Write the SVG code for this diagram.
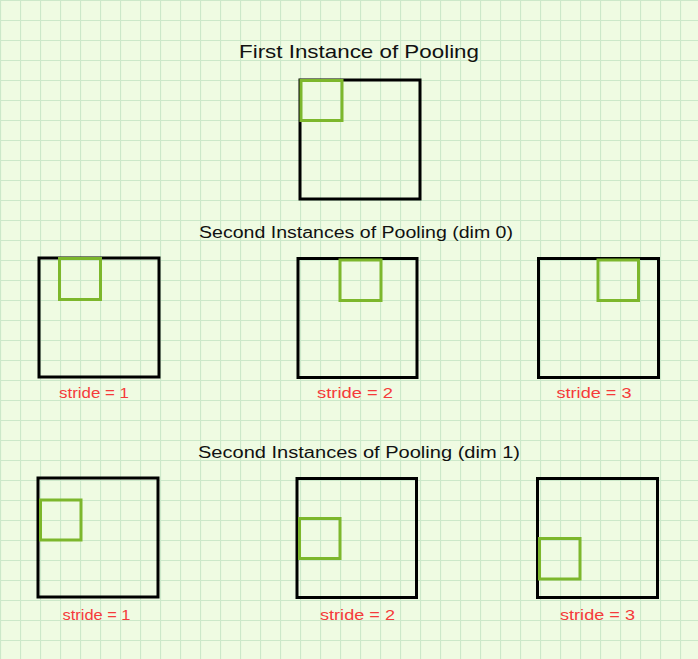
<svg xmlns="http://www.w3.org/2000/svg" width="698" height="659" viewBox="0 0 698 659">
<defs>
<pattern id="grid" width="20" height="20" patternUnits="userSpaceOnUse">
<rect width="20" height="20" fill="#effbe2"/>
<path d="M0 0.5H20M0.5 0V20" stroke="#cce8c9" stroke-width="1.2" fill="none"/>
</pattern>
</defs>
<style>
.outer{fill:none;stroke:#000;stroke-width:3}
.win{fill:none;stroke:#7db72c;stroke-width:3}
.title{font-family:"Liberation Sans",Arial,sans-serif;fill:#111;text-anchor:middle}
.lbl{font-family:"Liberation Sans",Arial,sans-serif;font-size:14px;fill:#f53a3a;text-anchor:middle}
</style>
<rect width="698" height="659" fill="url(#grid)"/>
<text class="title" x="359" y="58" font-size="19" textLength="240" lengthAdjust="spacingAndGlyphs">First Instance of Pooling</text>
<text class="title" x="356" y="238" font-size="16" textLength="314" lengthAdjust="spacingAndGlyphs">Second Instances of Pooling (dim 0)</text>
<text class="title" x="359" y="458" font-size="16" textLength="322" lengthAdjust="spacingAndGlyphs">Second Instances of Pooling (dim 1)</text>
<g id="connectors"/>
<g id="first">
<rect class="outer" x="300" y="80" width="120" height="119"/>
<rect class="win" x="301" y="80.5" width="41" height="40"/>
</g>
<g id="dim0-s1">
<rect class="outer" x="39" y="258" width="120" height="119"/>
<rect class="win" x="59.5" y="258.5" width="41" height="41"/>
<text class="lbl" x="94" y="398" textLength="70" lengthAdjust="spacingAndGlyphs">stride = 1</text>
</g>
<g id="dim0-s2">
<rect class="outer" x="298" y="258.5" width="119" height="119"/>
<rect class="win" x="340" y="260" width="41" height="40.5"/>
<text class="lbl" x="355" y="398" textLength="76" lengthAdjust="spacingAndGlyphs">stride = 2</text>
</g>
<g id="dim0-s3">
<rect class="outer" x="538.5" y="258.5" width="120" height="119"/>
<rect class="win" x="598" y="260" width="40.5" height="40.5"/>
<text class="lbl" x="594" y="398" textLength="75" lengthAdjust="spacingAndGlyphs">stride = 3</text>
</g>
<g id="dim1-s1">
<rect class="outer" x="38" y="478" width="120" height="119"/>
<rect class="win" x="40.5" y="500" width="40.5" height="40"/>
<text class="lbl" x="96.5" y="620" textLength="68" lengthAdjust="spacingAndGlyphs">stride = 1</text>
</g>
<g id="dim1-s2">
<rect class="outer" x="297" y="478.5" width="119.5" height="119"/>
<rect class="win" x="299.5" y="518.5" width="40.5" height="40"/>
<text class="lbl" x="357.5" y="620" textLength="75" lengthAdjust="spacingAndGlyphs">stride = 2</text>
</g>
<g id="dim1-s3">
<rect class="outer" x="537.5" y="478.5" width="120" height="119"/>
<rect class="win" x="539.5" y="538.5" width="40.5" height="40.5"/>
<text class="lbl" x="597.5" y="620" textLength="75" lengthAdjust="spacingAndGlyphs">stride = 3</text>
</g>
</svg>
